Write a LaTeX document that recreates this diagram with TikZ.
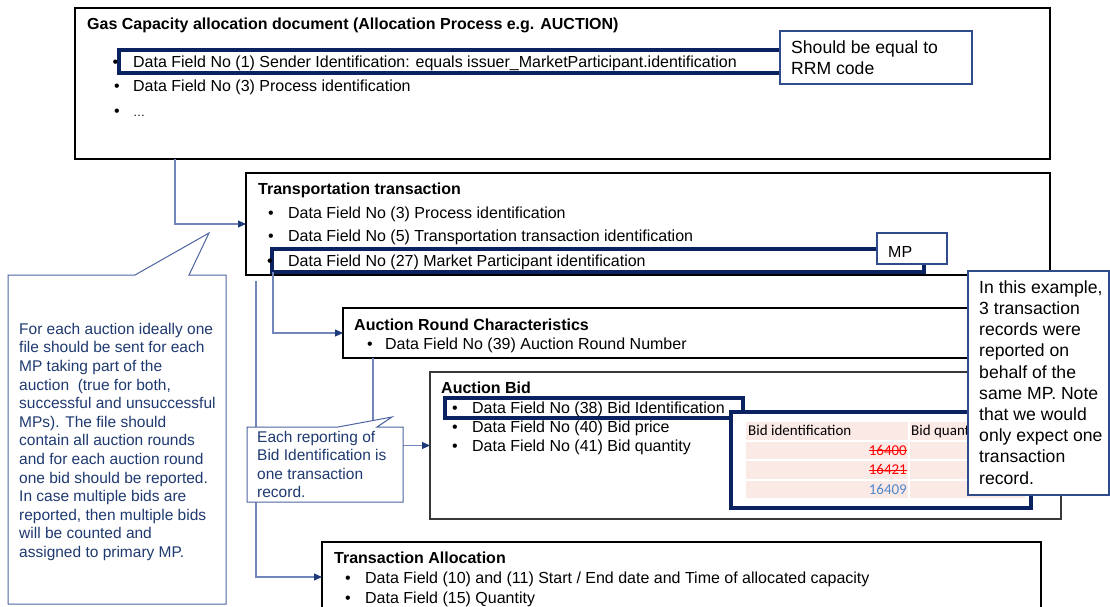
\documentclass[tikz,border=0pt]{standalone}
\usepackage{fontspec}
\setmainfont{Liberation Sans}
\newfontfamily\calfont{Carlito}
\usetikzlibrary{arrows.meta}
\definecolor{hlc}{HTML}{0A2260}
\definecolor{callc}{HTML}{2F4B8C}
\definecolor{lcall}{HTML}{4D64A0}
\definecolor{connc}{HTML}{7386BC}
\definecolor{tipc}{HTML}{1F3A7A}
\definecolor{ctxt}{HTML}{1F3A70}
\definecolor{pinkc}{HTML}{FBE9E6}
\definecolor{redc}{HTML}{FF0000}
\definecolor{bluec}{HTML}{4F88C8}
\newcommand{\mybul}[2]{\makebox[#1][l]{•}#2}
\begin{document}
\begin{tikzpicture}[x=1pt,y=-1pt,
 box/.style={draw=black,line width=1.1pt,fill=white,anchor=north west,inner sep=0pt,outer sep=0pt},
 hlbox/.style={draw=hlc,line width=3.4pt},
 callbox/.style={draw=callc,line width=1.1pt,fill=white,anchor=north west,inner sep=0pt,outer sep=0pt},
 lcallout/.style={draw=lcall,line width=1pt,fill=white},
 conn/.style={draw=connc,line width=1.1pt,-{Triangle[length=8pt,width=7pt,color=tipc]}},
 ttl/.style={anchor=base west,inner sep=0pt,font=\fontsize{16}{18}\bfseries\selectfont},
 txt/.style={anchor=base west,inner sep=0pt,font=\fontsize{16}{18}\selectfont},
 ctext/.style={anchor=base west,inner sep=0pt,text=ctxt,font=\fontsize{15.5}{18}\selectfont},
 rtext/.style={anchor=base west,inner sep=0pt,font=\fontsize{17.6}{21}\selectfont},
 tbtext/.style={inner sep=0pt,font=\calfont\fontsize{15}{17}\selectfont},
 cell/.style={fill=pinkc,draw=none},
 strike/.style={draw=redc,line width=0.8pt}
]
\useasboundingbox[fill=white] (0,0) rectangle (1110,606);

% ---------- Gas capacity box
\node[box,minimum width=975pt,minimum height=151pt] (gas) at (75,8) {};
\node[ttl] (gasT) at (87,29.5) {Gas Capacity allocation document (Allocation Process e.g. AUCTION)};
\draw[hlbox] (119,50) rectangle (800,73);
\node[txt] (gas1) at (112.5,67.5) {\mybul{20.5pt}{Data Field No (1) Sender Identification: equals issuer\_MarketParticipant.identification}};
\node[txt] (gas2) at (114,91.5) {\mybul{19pt}{Data Field No (3) Process identification}};
\node[txt] (gas3) at (114,116) {\mybul{19pt}{\fontsize{12}{14}\selectfont …}};
\node[callbox,minimum width=192pt,minimum height=53pt] (rrm) at (780,31) {};
\node[rtext] (rrm1) at (791,53.3) {Should be equal to};
\node[rtext] (rrm2) at (791,74) {RRM code};

% ---------- Transportation transaction
\node[box,minimum width=804pt,minimum height=102pt] (trans) at (246,173) {};
\node[ttl] (transT) at (258,194) {Transportation transaction};
\draw[hlbox] (272,249) rectangle (924,272);
\node[txt] (tr1) at (268,218.3) {\mybul{20pt}{Data Field No (3) Process identification}};
\node[txt] (tr2) at (268,241.7) {\mybul{20pt}{Data Field No (5) Transportation transaction identification}};
\node[txt] (tr3) at (267,266) {\mybul{21pt}{Data Field No (27) Market Participant identification}};
\node[callbox,minimum width=70pt,minimum height=31pt] (mp) at (877,233) {};
\node[txt] (mpT) at (888,257.3) {MP};

% ---------- Auction round characteristics
\node[box,minimum width=750pt,minimum height=50pt] (ar) at (343,308) {};
\node[ttl] (arT) at (354,330) {Auction Round Characteristics};
\node[txt] (ar1) at (367,349.3) {\mybul{18pt}{Data Field No (39) Auction Round Number}};

% ---------- Auction bid
\node[box,draw=black!78,line width=1.4pt,minimum width=631pt,minimum height=147pt] (ab) at (430,372) {};
\node[ttl] (abT) at (441,393.3) {Auction Bid};
\draw[hlbox] (445,398) rectangle (743,418);
\node[txt] (ab1) at (452,413.3) {\mybul{20pt}{Data Field No (38) Bid Identification}};
\node[txt] (ab2) at (452,432.7) {\mybul{20pt}{Data Field No (40) Bid price}};
\node[txt] (ab3) at (452,451.7) {\mybul{20pt}{Data Field No (41) Bid quantity}};

% table
\draw[hlbox,fill=white] (731,412) rectangle (1031,508);
\fill[cell] (746,422) rectangle (908,440);
\fill[cell] (910,422) rectangle (1025,440);
\fill[cell] (746,442) rectangle (908,459);
\fill[cell] (910,442) rectangle (1025,459);
\fill[cell] (746,461) rectangle (908,479);
\fill[cell] (910,461) rectangle (1025,479);
\fill[cell] (746,481) rectangle (908,498);
\fill[cell] (910,481) rectangle (1025,498);
\node[tbtext,anchor=base west] (th1) at (748,435.7) {Bid identification};
\node[tbtext,anchor=base west] (th2) at (911,435.7) {Bid quantity};
\node[tbtext,anchor=base east,text=redc] (v1) at (907,455) {16400};
\node[tbtext,anchor=base east,text=redc] (v2) at (907,474.3) {16421};
\node[tbtext,anchor=base east,text=bluec] (v3) at (907,494.3) {16409};
\draw[strike] ([yshift=4.3pt]v1.base west) -- ([yshift=4.3pt]v1.base east);
\draw[strike] ([yshift=4.3pt]v2.base west) -- ([yshift=4.3pt]v2.base east);

% ---------- Transaction allocation
\node[box,minimum width=719pt,minimum height=70pt] (ta) at (322,542) {};
\node[ttl] (taT) at (334,563) {Transaction Allocation};
\node[txt] (ta1) at (345,583) {\mybul{20pt}{Data Field (10) and (11) Start / End date and Time of allocated capacity}};
\node[txt] (ta2) at (345,603) {\mybul{20pt}{Data Field (15) Quantity}};

% ---------- connectors
\coordinate (c1) at (175,159);
\coordinate (c2) at (273,272);
\coordinate (c3) at (256,281);
\coordinate (c4) at (373,358);
\draw[conn] (c1) |- (trans.west);
\draw[conn] (c2) |- (ar.west);
\draw[conn] (c3) |- (ta.west);
\draw[conn] (c4) |- (ab.west);

% ---------- left callout
\draw[lcallout] (8,275) -- (135,275) -- (209,233) -- (189,275) -- (226,275) -- (226,604) -- (8,604) -- cycle;
\foreach \t [count=\i from 0] in {For each auction ideally one,file should be sent for each,MP taking part of the,{auction \ (true for both,},successful and unsuccessful,MPs). The file should,contain all auction rounds,and for each auction round,one bid should be reported.,In case multiple bids are,{reported, then multiple bids},will be counted and,assigned to primary MP.}
  \node[ctext] (lc\i) at (19,{334.3+18.6*\i}) {\t};

% ---------- small callout
\draw[lcallout] (247,427) -- (338,427) -- (392,417) -- (377,427) -- (403,427) -- (403,502) -- (247,502) -- cycle;
\foreach \t [count=\i from 0] in {Each reporting of,Bid Identification is,one transaction,record.}
  \node[ctext] (sc\i) at (257,{442.7+18.2*\i}) {\t};

% ---------- right callout
\node[callbox,minimum width=141pt,minimum height=224pt] (rc) at (968,271) {};
\foreach \t [count=\i from 0] in {{In this example,},3 transaction,records were,reported on,behalf of the,same MP. Note,that we would,only expect one,transaction,record.}
  \node[rtext] (rc\i) at (979,{293.3+21.2*\i}) {\t};
\end{tikzpicture}
\end{document}
